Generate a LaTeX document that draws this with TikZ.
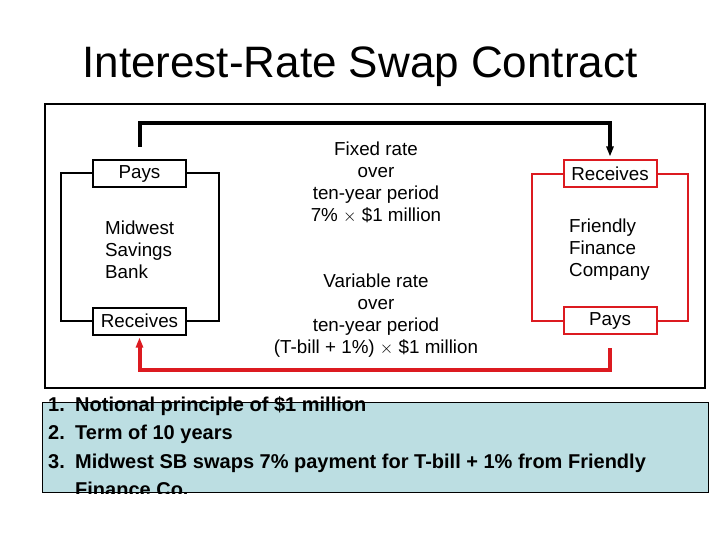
\documentclass[tikz,border=0pt]{standalone}
\usepackage{fontspec}
\setmainfont{Liberation Sans}
\usetikzlibrary{
    arrows.meta,
    positioning
}
\definecolor{swap red}{RGB}{220,26,32}
\definecolor{note blue}{RGB}{188,222,226}
\tikzset{
    % Colors
    fixed color/.style={draw=black},
    variable color/.style={draw=swap red},
    %
    % Boxes and frames
    frame/.style={line width=2pt},
    party box/.style={draw,line width=2pt,fill=white,minimum width=93pt,minimum height=27pt,inner sep=0pt},
    bracket/.style={line width=2pt},
    note box/.style={draw=black,line width=1pt},
    %
    % Arrows
    arrow tip/.tip={Triangle[length=10pt,width=7pt]},
    flow/.style={-{arrow tip},line width=4pt},
    %
    % Texts
    title text/.style={font=\fontsize{44}{52}\selectfont},
    rate text/.style={align=center,inner sep=0pt},
    party text/.style={align=left,anchor=west,inner sep=0pt},
    note text/.style={align=left,anchor=north west,inner sep=0pt,font=\fontsize{20}{28.5}\selectfont\bfseries}
}
\tikzstyle{every node}=[font=\fontsize{18.8}{22}\selectfont]

\begin{document}
\begin{tikzpicture}[x=1pt,y=-1pt]
    \useasboundingbox (0,0) rectangle (720,540);
    \node[title text] (title) at (360,67) {Interest-Rate Swap Contract};
    \draw[frame] (45,104) rectangle (705,388);
    % Midwest Savings Bank
    \node[party box] (mwpays) at (139.5,173.5) {Pays};
    \node[party box] (mwrec) at (139.5,321) {Receives};
    \draw[bracket] (mwpays.west) -- ++(-31,0) |- (mwrec.west);
    \draw[bracket] (mwpays.east) -- ++(32,0) |- (mwrec.east);
    \node[party text] (bank) at (105,250) {Midwest\\Savings\\Bank};
    % Friendly Finance Company
    \node[party box,variable color] (ffrec) at (610,174) {Receives};
    \node[party box,variable color] (ffpays) at (610,320.5) {Pays};
    \draw[bracket,swap red] (ffrec.west) -- ++(-31,0) |- (ffpays.west);
    \draw[bracket,swap red] (ffrec.east) -- ++(30,0) |- (ffpays.east);
    \node[party text] (company) at (569,250) {Friendly\\Finance\\Company};
    % the two payment flows
    \coordinate (fixtop) at (376,123);
    \coordinate (varbot) at (376,370);
    \draw[flow,black,shorten <=12pt,shorten >=3pt] (mwpays.north) |- (fixtop) -| (ffrec.north);
    \draw[flow,swap red,shorten <=13pt,shorten >=2pt] (ffpays.south) |- (varbot) -| (mwrec.south);
    \node[rate text] (fixed) at (376,182) {Fixed rate\\over\\ten-year period\\7\% $\times$ \$1 million};
    \node[rate text] (variable) at (376,316) {Variable rate\\over\\ten-year period\\(T-bill + 1\%) $\times$ \$1 million};
    % summary, cut off at the bottom of its box
    \fill[note blue] (42,402) rectangle (708,492);
    \begin{scope}
        \clip (0,0) rectangle (720,493);
        \node[note text] (summary) at (48,396) {\makebox[27pt][l]{1.}Notional principle of \$1 million\\
            \makebox[27pt][l]{2.}Term of 10 years\\
            \makebox[27pt][l]{3.}Midwest SB swaps 7\% payment for T-bill + 1\% from Friendly\\
            \hspace*{27pt}Finance Co.};
    \end{scope}
    \draw[note box] (42,402) rectangle (708,492);
\end{tikzpicture}
\end{document}
